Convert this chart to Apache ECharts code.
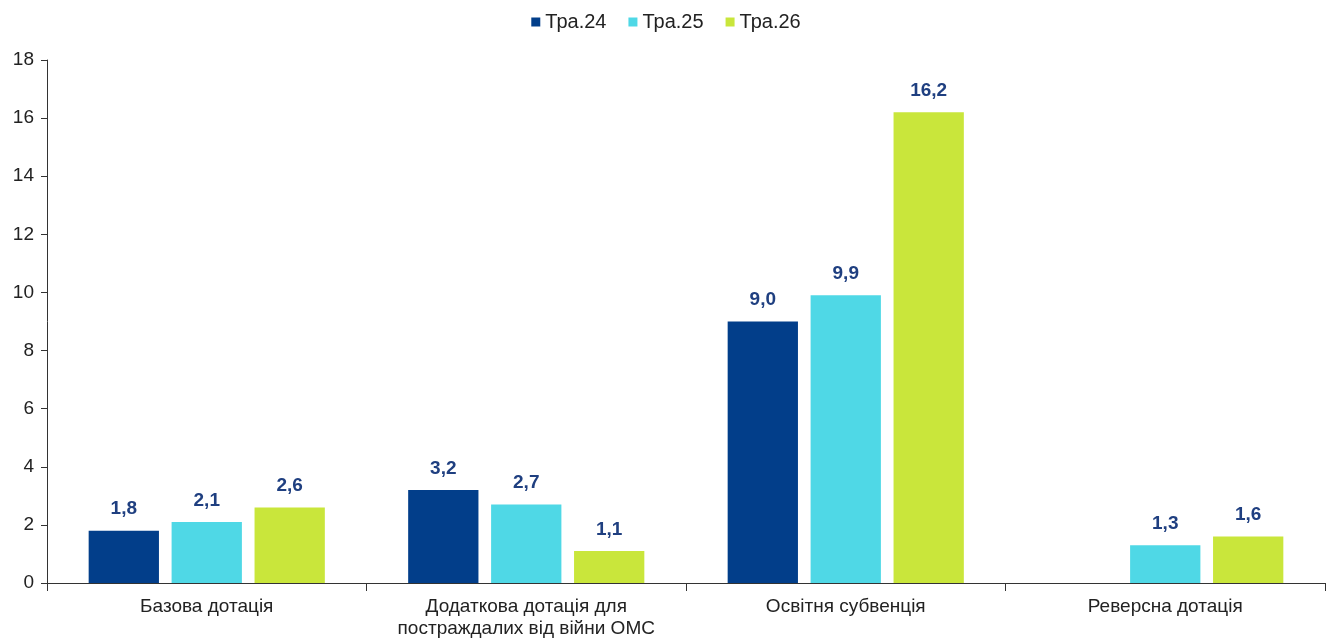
<!DOCTYPE html>
<html><head><meta charset="utf-8">
<script src="https://cdn.jsdelivr.net/npm/echarts@6/dist/echarts.min.js"></script>
<style>html,body{margin:0;padding:0;background:#fff}#c{width:1332px;height:640px}</style>
</head><body><div id="c"></div>
<script>
const categories = ['Базова дотація', 'Додаткова дотація для\nпостраждалих від війни ОМС', 'Освітня субвенція', 'Реверсна дотація'];
const seriesNames = ['Тра.24', 'Тра.25', 'Тра.26'];
const s24 = [1.8, 3.2, 9.0, null];
const s25 = [2.1, 2.7, 9.9, 1.3];
const s26 = [2.6, 1.1, 16.2, 1.6];
const colors = ['#023e8a', '#4fd8e6', '#c9e63b'];
const font = 'Liberation Sans, Arial, sans-serif';
const chart = echarts.init(document.getElementById('c'));
const mk = (name, data, i) => ({
  name, type: 'bar', data, barWidth: '22%', barGap: '18%',
  itemStyle: { color: colors[i] },
  label: { show: true, position: 'top', distance: 12, color: '#1f3f80', fontWeight: 'bold', fontSize: 19, fontFamily: font,
    formatter: p => p.value == null ? '' : p.value.toFixed(1).replace('.', ',') }
});
chart.setOption({
  animation: false,
  legend: { top: 7, left: 'center', itemWidth: 9, itemHeight: 9, itemGap: 22, icon: 'rect',
    textStyle: { fontSize: 20, fontFamily: font, color: '#222' } },
  grid: { left: 47, right: 7, top: 60, bottom: 56 },
  xAxis: { type: 'category', data: categories,
    axisLine: { lineStyle: { color: '#333' } },
    axisTick: { show: true, length: 8, interval: 0, lineStyle: { color: '#333' } },
    axisLabel: { interval: 0, hideOverlap: false, fontSize: 19, fontFamily: font, color: '#222', margin: 13, lineHeight: 22 } },
  yAxis: { type: 'value', min: 0, max: 18, interval: 2,
    axisLine: { show: true, lineStyle: { color: '#333' } },
    axisTick: { show: true, length: 6, lineStyle: { color: '#333' } },
    splitLine: { show: false },
    axisLabel: { fontSize: 19, fontFamily: font, color: '#222', margin: 13 } },
  series: [mk(seriesNames[0], s24, 0), mk(seriesNames[1], s25, 1), mk(seriesNames[2], s26, 2)]
});
</script></body></html>
